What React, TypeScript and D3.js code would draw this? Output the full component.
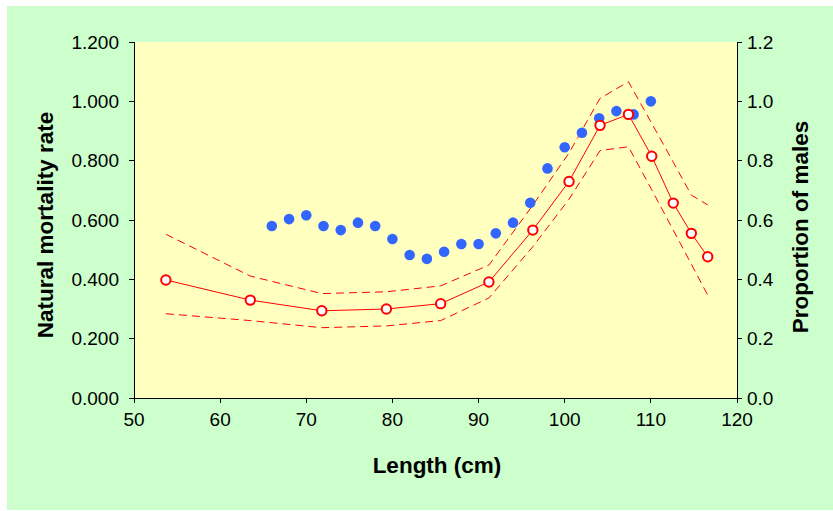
import React from 'react';
import * as d3 from 'd3';

// mortality estimates by length (cm)
const mortLength = [53.7, 63.5, 71.8, 79.3, 85.6, 91.2, 96.3, 100.5, 104.1, 107.4, 110.1, 112.6, 114.7, 116.6];
const mortRate = [0.398, 0.33, 0.294, 0.3, 0.318, 0.391, 0.566, 0.73, 0.919, 0.956, 0.815, 0.657, 0.555, 0.476];
const mortUpper = [0.552, 0.411, 0.352, 0.358, 0.378, 0.448, 0.65, 0.826, 1.01, 1.066, 0.926, 0.795, 0.684, 0.651];
const mortLower = [0.284, 0.261, 0.237, 0.243, 0.261, 0.337, 0.51, 0.67, 0.834, 0.847, 0.702, 0.566, 0.451, 0.347];

// proportion of males by length
const maleLength = [66, 68, 70, 72, 74, 76, 78, 80, 82, 84, 86, 88, 90, 92, 94, 96, 98, 100, 102, 104, 106, 108, 110];
const maleProp = [0.58, 0.603, 0.616, 0.58, 0.566, 0.591, 0.58, 0.536, 0.482, 0.469, 0.493, 0.519, 0.519, 0.555, 0.591, 0.658, 0.774, 0.845, 0.894, 0.943, 0.967, 0.956, 1.0];

const xTicks = [50, 60, 70, 80, 90, 100, 110, 120];
const yTicks = [0, 0.2, 0.4, 0.6, 0.8, 1.0, 1.2];

const W = 833;
const H = 511;
const LEFT = 134;
const RIGHT = 737;
const TOP = 42;
const BOTTOM = 398;
const FONT = 'Liberation Sans, Arial, sans-serif';

export default function App() {
  const x = d3.scaleLinear().domain([50, 120]).range([LEFT, RIGHT]);
  const y = d3.scaleLinear().domain([0, 1.2]).range([BOTTOM, TOP]);
  const yR = d3.scaleLinear().domain([0, 1.2]).range([BOTTOM, TOP]);

  const line = (vals: number[]) =>
    d3.line<number>()
      .x((_, i) => x(mortLength[i]))
      .y((d) => y(d))(vals) || '';

  const fmtL = d3.format('.3f');
  const fmtR = d3.format('.1f');

  return (
    <svg width={W} height={H} style={{ position: 'absolute', left: 0, top: 0 }} fontFamily={FONT}>
      <rect x={0} y={0} width={W} height={H} fill="#ffffff" />
      <rect x={7} y={6} width={W - 7} height={504} fill="#ccffcc" />
      <rect x={LEFT} y={TOP} width={RIGHT - LEFT} height={BOTTOM - TOP} fill="#ffffc0" />

      {/* dashed bounds */}
      <path d={line(mortUpper)} fill="none" stroke="#ff0000" strokeWidth={1} strokeDasharray="8,5" />
      <path d={line(mortLower)} fill="none" stroke="#ff0000" strokeWidth={1} strokeDasharray="8,5" />
      <path d={line(mortRate)} fill="none" stroke="#ff0000" strokeWidth={1} />

      {/* proportion of males */}
      {maleProp.map((v, i) => (
        <circle key={'m' + i} cx={x(maleLength[i])} cy={yR(v)} r={5.3} fill="#3366ff" />
      ))}

      {mortRate.map((v, i) => (
        <circle key={'r' + i} cx={x(mortLength[i])} cy={y(v)} r={4.7} fill="#ffffff" stroke="#ff0000" strokeWidth={2} />
      ))}

      {/* axes */}
      <g stroke="#000000" strokeWidth={1} shapeRendering="crispEdges">
        <line x1={LEFT} x2={LEFT} y1={TOP} y2={BOTTOM} />
        <line x1={RIGHT} x2={RIGHT} y1={TOP} y2={BOTTOM} />
        <line x1={LEFT} x2={RIGHT} y1={BOTTOM} y2={BOTTOM} />
        {yTicks.map((t) => (
          <line key={'lt' + t} x1={LEFT - 5} x2={LEFT} y1={y(t)} y2={y(t)} />
        ))}
        {yTicks.map((t) => (
          <line key={'rt' + t} x1={RIGHT} x2={RIGHT + 5} y1={yR(t)} y2={yR(t)} />
        ))}
        {xTicks.map((t) => (
          <line key={'xt' + t} x1={x(t)} x2={x(t)} y1={BOTTOM} y2={BOTTOM + 5} />
        ))}
      </g>

      <g fontSize={19} fill="#000000">
        {yTicks.map((t) => (
          <text key={'ll' + t} x={LEFT - 15} y={y(t)} dy="0.35em" textAnchor="end">{fmtL(t)}</text>
        ))}
        {yTicks.map((t) => (
          <text key={'rl' + t} x={RIGHT + 10} y={yR(t)} dy="0.35em" textAnchor="start">{t === 0 ? '0.0' : fmtR(t)}</text>
        ))}
        {xTicks.map((t) => (
          <text key={'xl' + t} x={x(t)} y={BOTTOM + 28} textAnchor="middle">{t}</text>
        ))}
      </g>

      <g fontSize={22.5} fontWeight="bold" fill="#000000">
        <text x={437} y={473} textAnchor="middle">Length (cm)</text>
        <text transform={`translate(53,${(TOP + BOTTOM) / 2 + 5}) rotate(-90)`} textAnchor="middle">Natural mortality rate</text>
        <text transform={`translate(808,${(TOP + BOTTOM) / 2 + 7}) rotate(-90)`} textAnchor="middle">Proportion of males</text>
      </g>
    </svg>
  );
}
